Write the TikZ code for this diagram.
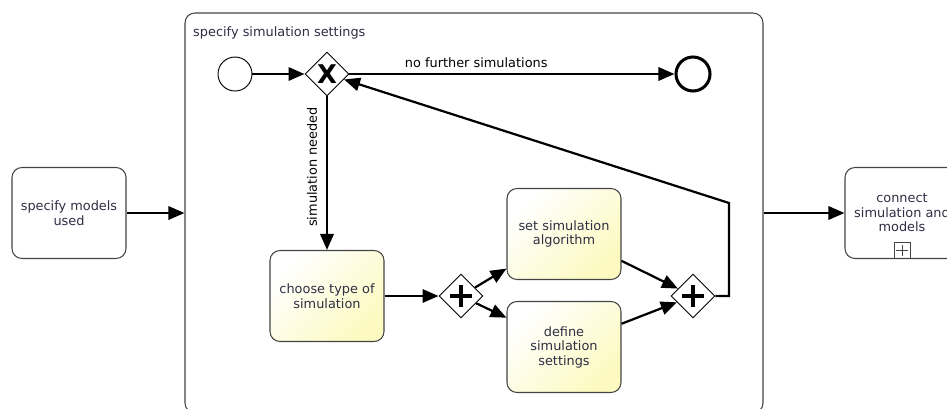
\documentclass[tikz,border=0pt]{standalone}
\usepackage{fontspec}
\setmainfont{DejaVu Sans}
\usepackage{tikz}
\usetikzlibrary{shapes.geometric, arrows.meta}
\definecolor{txtcol}{HTML}{2E2E44}
\definecolor{taskyellow}{HTML}{FCFAC0}
\definecolor{bordergray}{HTML}{444444}
\tikzstyle{task} = [rectangle, rounded corners=0.3cm, draw=bordergray, line width=0.9pt, minimum width=3.42cm, minimum height=2.73cm, align=center, text=txtcol, font=\fontsize{11pt}{12.4pt}\selectfont]
\tikzstyle{usertask} = [task, top color=white, bottom color=taskyellow, shading angle=45]
\tikzstyle{event} = [circle, draw, fill=white, minimum size=1.02cm, inner sep=0pt]
\tikzstyle{gate} = [diamond, draw, fill=white, minimum size=1.32cm, inner sep=0pt, line width=0.8pt]
\tikzstyle{andgate} = [gate, path picture={
  \draw[line width=1.4mm] ([xshift=-0.33cm]path picture bounding box.center) -- ([xshift=0.33cm]path picture bounding box.center);
  \draw[line width=1.4mm] ([yshift=-0.33cm]path picture bounding box.center) -- ([yshift=0.33cm]path picture bounding box.center);}]
\tikzstyle{flowlabel} = [text=black, font=\fontsize{11pt}{12.4pt}\selectfont]
\tikzstyle{flow} = [line width=1.9pt, -{Triangle[length=0.48cm,width=0.4cm]}]

\begin{document}
\begin{tikzpicture}[x=0.03cm, y=-0.03cm]
  \useasboundingbox (0,0) rectangle (947,408);
  \clip (0,0) rectangle (947,408);

  % Nodes
  \node[task] (models) at (69,213) {specify models\\used};
  \node[rectangle, rounded corners=0.3cm, draw=bordergray, line width=0.9pt, minimum width=17.34cm, minimum height=12cm] (sub) at (474,213) {};
  \node[anchor=west, inner sep=0pt, text=txtcol, font=\fontsize{11pt}{12.4pt}\selectfont] (subtitle) at (193,33) {specify simulation settings};
  \node[task] (connect) at (902,213) {connect\\simulation and\\models};
  \node[rectangle, draw=bordergray, line width=0.7pt, minimum size=0.48cm, inner sep=0pt, anchor=south,
        path picture={\draw[line width=0.6pt] ([xshift=-0.17cm]path picture bounding box.center) -- ([xshift=0.17cm]path picture bounding box.center);
                      \draw[line width=0.6pt] ([yshift=-0.17cm]path picture bounding box.center) -- ([yshift=0.17cm]path picture bounding box.center);}]
        (marker) at (connect.south) {};

  \node[event, line width=0.8pt] (start) at (235,74) {};
  \node[gate] (xor) at (327,74) {\fontsize{22pt}{22pt}\selectfont\bfseries X};
  \node[event, line width=2.6pt] (end) at (693,74) {};

  \node[usertask] (choose) at (327,296) {choose type of\\simulation};
  \node[andgate] (split) at (461,296) {};
  \node[usertask] (algo) at (564,234) {set simulation\\algorithm};
  \node[usertask] (settings) at (564,347) {define\\simulation\\settings};
  \node[andgate] (join) at (693,296) {};
  \coordinate (bend) at (729,203);
  \node[flowlabel, rotate=90] (needlabel) at (312,167) {simulation needed};

  % Edges
  \draw[flow] (models) -- (sub);
  \draw[flow] (sub) -- (connect);
  \draw[flow] (start) -- (xor);
  \draw[flow] (xor) -- node[pos=0.39, above=1pt, flowlabel] {no further simulations} (end);
  \draw[flow] (xor) -- (choose);
  \draw[flow] (choose) -- (split);
  \draw[flow] (split) -- (algo.211);
  \draw[flow] (split) -- (settings.153);
  \draw[flow] (algo.335) -- (join);
  \draw[flow] (settings.22) -- (join);
  \draw[flow] (join) -- (join -| bend) -- (bend) -- (xor);
\end{tikzpicture}
\end{document}
